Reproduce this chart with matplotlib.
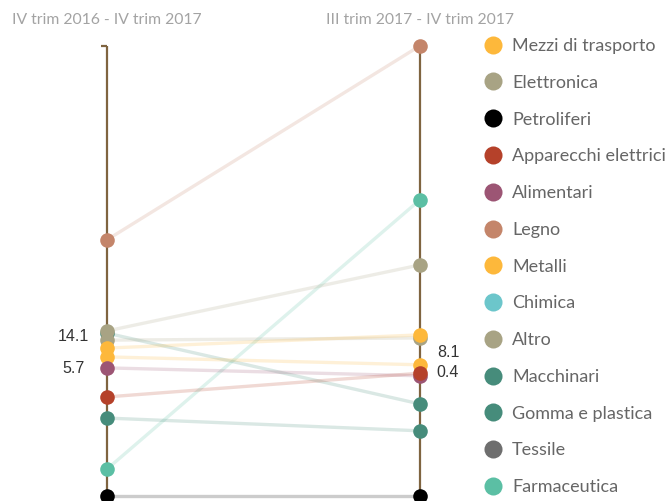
import matplotlib
matplotlib.use("Agg")
import matplotlib.pyplot as plt
from matplotlib.lines import Line2D

plt.rcParams['font.family'] = ['Lato', 'DejaVu Sans']

# change (%) per sector, two periods
categories = ["Mezzi di trasporto", "Elettronica", "Petroliferi", "Apparecchi elettrici",
              "Alimentari", "Legno", "Metalli", "Chimica", "Altro", "Macchinari",
              "Gomma e plastica", "Tessile", "Farmaceutica"]
colors = ["#fdb83b", "#a8a384", "#000000", "#b5412a", "#9c5574", "#c4856a", "#fdb83b",
          "#6cc6cb", "#a8a384", "#468c7b", "#468c7b", "#6e6e6e", "#5bbfa4"]
left_values = [10.2, 14.1, -23.4, -0.9, 5.7, 34.8, 8.2, -31.0, 12.0, 13.6, -5.7, -28.0, -17.3]
right_values = [13.2, 29.1, -23.4, 4.5, 3.9, 78.9, 6.4, -29.0, 12.5, -2.5, -8.6, -30.0, 43.9]
column_titles = ["IV trim 2016 - IV trim 2017", "III trim 2017 - IV trim 2017"]

# value labels shown next to the axes: (column, series index, text)
value_labels = [(0, 1, "14.1"), (0, 4, "5.7"), (1, 6, "8.1"), (1, 3, "0.4")]

axis_color = "#7f6440"

fig = plt.figure(figsize=(6.70, 5.01), dpi=100)
ax = fig.add_axes([107 / 670, 0, (420 - 107) / 670, 1])
ax.set_xlim(0, 1)
ax.set_ylim(-24.55, 89.3)
ax.axis('off')

top = max(left_values + right_values)
ax.vlines([0, 1], -40, top, color=axis_color, lw=1.6, zorder=2, clip_on=False)
ax.hlines(top, -0.02, 0, color=axis_color, lw=1.6, zorder=2, clip_on=False)

# draw in reverse so the first series end up on top
for i in reversed(range(len(categories))):
    ax.plot([0, 1], [left_values[i], right_values[i]], color=colors[i], alpha=0.2,
            lw=2.4, solid_capstyle='butt', zorder=3)
for i in reversed(range(len(categories))):
    ax.plot([0, 1], [left_values[i], right_values[i]], ls='none', marker='o', ms=10.5,
            color=colors[i], mec='none', zorder=5, clip_on=False)

for col, idx, txt in value_labels:
    vals = left_values if col == 0 else right_values
    dx = -34 if col == 0 else 28
    dy = {"14.1": -6, "5.7": -1, "8.1": 12, "0.4": 1}[txt]
    ax.annotate(txt, (col, vals[idx]), xytext=(dx, dy), textcoords='offset pixels',
                ha='center', va='center', fontsize=11.5, color="#333333",
                family=['Liberation Sans', 'DejaVu Sans'], annotation_clip=False)

for col, title in enumerate(column_titles):
    ax.annotate(title, (col, 1), xycoords=('data', 'axes fraction'), xytext=(0, -20),
                textcoords='offset pixels', ha='center', va='center', fontsize=11.3,
                color="#a3a3a3", annotation_clip=False)

handles = [Line2D([], [], ls='none', marker='o', ms=13, color=c, mec='none') for c in colors]
leg = fig.legend(handles, categories, loc='upper left', bbox_to_anchor=(484 / 670, 1 - 38 / 501),
                 frameon=False, fontsize=13, labelspacing=1.15, handlelength=1.0,
                 handletextpad=0.55, borderpad=0, borderaxespad=0)
for t in leg.get_texts():
    t.set_color("#666666")

fig.savefig("out.png", dpi=100)
